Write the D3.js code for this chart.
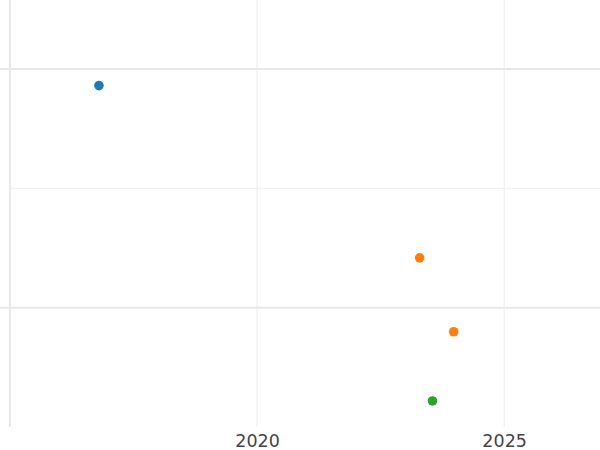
<!DOCTYPE html>
<html><head><meta charset="utf-8">
<script src="https://cdn.jsdelivr.net/npm/d3@7"></script>
<style>body{margin:0;background:#fff}svg{display:block}</style>
</head><body>
<script>
const series = ["A","B","C"];
const colors = ["#1f77b4","#ff7f0e","#2ca02c"];
const pointSeries = ["A","B","B","C"];
const pointYears = [2016.80, 2023.29, 2023.98, 2023.55];
const pointValues = [3.860, 2.417, 1.798, 1.218];
const xTicks = [2020, 2025];
const yMajorTicks = [2, 4];
const yMinorTicks = [3];

const W = 600, H = 450;
const mLeft = 10, mRight = 600, mTop = 0, mBottom = 427;
const svg = d3.select("body").append("svg").attr("width", W).attr("height", H);

const x = d3.scaleLinear().domain([2015, 2026.94]).range([mLeft, mRight]);
const y = d3.scaleLinear().domain([1, 4.577]).range([mBottom, mTop]);
const color = d3.scaleOrdinal().domain(series).range(colors);

// vertical grid
svg.append("g").selectAll("line").data(xTicks).join("line")
  .attr("x1", d => x(d)).attr("x2", d => x(d))
  .attr("y1", mTop).attr("y2", mBottom)
  .attr("stroke", "#ebebeb").attr("stroke-width", 1);
// minor horizontal grid
svg.append("g").selectAll("line").data(yMinorTicks).join("line")
  .attr("x1", mLeft).attr("x2", mRight)
  .attr("y1", d => y(d)).attr("y2", d => y(d))
  .attr("stroke", "#eeeeee").attr("stroke-width", 1);
// major horizontal grid
svg.append("g").selectAll("line").data(yMajorTicks).join("line")
  .attr("x1", 0).attr("x2", mRight)
  .attr("y1", d => y(d)).attr("y2", d => y(d))
  .attr("stroke", "#e8e8e8").attr("stroke-width", 2);
// y axis line
svg.append("line").attr("x1", mLeft).attr("x2", mLeft).attr("y1", mTop).attr("y2", mBottom)
  .attr("stroke", "#e8e8e8").attr("stroke-width", 2);

// x axis labels
const xAxis = d3.axisBottom(x).tickValues(xTicks).tickFormat(d3.format("d")).tickSize(0).tickPadding(0);
const gx = svg.append("g").attr("transform", `translate(0,${mBottom})`).call(xAxis);
gx.select(".domain").remove();
gx.selectAll("text").attr("dy", null).attr("y", 20)
  .attr("font-family", "DejaVu Sans").attr("font-size", 17.5).attr("fill", "#444");

// points
svg.append("g").selectAll("circle").data(pointYears.map((v,i)=>i)).join("circle")
  .attr("cx", i => x(pointYears[i])).attr("cy", i => y(pointValues[i]))
  .attr("r", 4.8).attr("fill", i => color(pointSeries[i]));
</script>
</body></html>
